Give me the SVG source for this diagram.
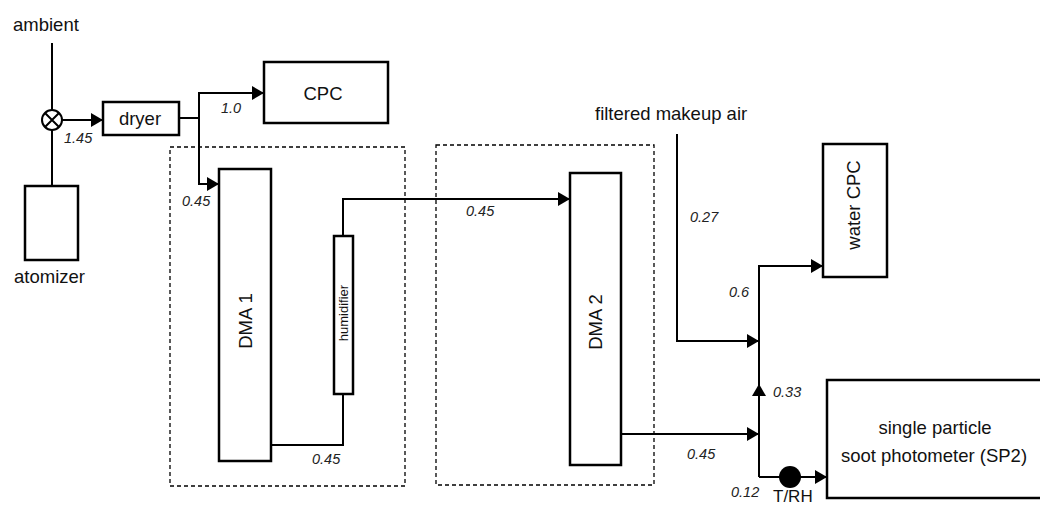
<svg xmlns="http://www.w3.org/2000/svg" width="1040" height="507" viewBox="0 0 1040 507">
<defs>
<marker id="ah" markerWidth="12" markerHeight="14" refX="12" refY="7" orient="auto" markerUnits="userSpaceOnUse">
<path d="M0,0 L12,7 L0,14 Z" fill="#000"/>
</marker>
<style>
.box{fill:#fff;stroke:#000;stroke-width:2.5}
.dash{fill:none;stroke:#000;stroke-width:1.3;stroke-dasharray:4 3}
.ln{fill:none;stroke:#000;stroke-width:2}
.arr{fill:none;stroke:#000;stroke-width:2;marker-end:url(#ah)}
.t{font-family:"Liberation Sans",Arial,Helvetica,sans-serif;font-size:18.5px;fill:#111}
.n{font-family:"Liberation Sans",Arial,Helvetica,sans-serif;font-size:14.5px;font-style:italic;fill:#222}
</style>
</defs>
<rect width="1040" height="507" fill="#fff"/>

<g id="dma1-enclosure"><rect class="dash" x="170" y="147" width="235" height="339"/></g>
<g id="dma2-enclosure"><rect class="dash" x="436" y="145" width="218" height="340"/></g>

<g id="connectors">
<path class="ln" d="M52,43 V185"/>
<path class="arr" d="M62,120 H103"/>
<path class="arr" d="M179,118 H199 V93 H264"/>
<path class="arr" d="M199,118 V184 H219"/>
<path class="ln" d="M271,445 H343 V394"/>
<path class="arr" d="M343,236 V199 H570"/>
<path class="arr" d="M621,434 H759"/>
<path class="arr" d="M677,134 V341 H759"/>
<path class="arr" d="M759,477 V384"/>
<path class="arr" d="M759,386 V266 H823"/>
<path class="arr" d="M759,477 H827"/>
</g>

<g id="ambient"><text class="t" x="13" y="31">ambient</text></g>
<g id="valve">
<circle cx="52" cy="120" r="10" fill="#fff" stroke="#000" stroke-width="2"/>
<path class="ln" d="M45,113 L59,127 M59,113 L45,127"/>
</g>
<g id="atomizer">
<rect class="box" x="25" y="186" width="53" height="74"/>
<text class="t" x="14" y="283">atomizer</text>
</g>
<g id="dryer">
<rect class="box" x="103" y="102" width="76" height="33"/>
<text class="t" x="140" y="125" text-anchor="middle">dryer</text>
</g>
<g id="cpc">
<rect class="box" x="264" y="62" width="124" height="61"/>
<text class="t" x="323" y="100" text-anchor="middle">CPC</text>
</g>
<g id="dma1">
<rect class="box" x="219" y="169" width="52" height="292"/>
<text class="t" transform="translate(245,321) rotate(-90)" text-anchor="middle" dominant-baseline="central">DMA 1</text>
</g>
<g id="humidifier">
<rect class="box" x="334" y="236" width="19" height="158"/>
<text class="t" style="font-size:13px" transform="translate(343.5,313) rotate(-90)" text-anchor="middle" dominant-baseline="central">humidifier</text>
</g>
<g id="dma2">
<rect class="box" x="570" y="173" width="51" height="292"/>
<text class="t" transform="translate(595,322) rotate(-90)" text-anchor="middle" dominant-baseline="central">DMA 2</text>
</g>
<g id="makeup-air"><text class="t" x="595" y="120">filtered makeup air</text></g>
<g id="water-cpc">
<rect class="box" x="823" y="144" width="64" height="133"/>
<text class="t" transform="translate(853,205) rotate(-90)" text-anchor="middle" dominant-baseline="central">water CPC</text>
</g>
<g id="sp2">
<rect class="box" x="827" y="380" width="230" height="118"/>
<text class="t" x="935" y="434" text-anchor="middle">single particle</text>
<text class="t" x="934" y="462" text-anchor="middle">soot photometer (SP2)</text>
</g>
<g id="trh">
<circle cx="790" cy="477" r="11" fill="#000"/>
<text class="t" style="font-size:17px" x="773" y="502">T/RH</text>
</g>

<g id="labels">
<text class="n" x="64" y="143">1.45</text>
<text class="n" x="221" y="113">1.0</text>
<text class="n" x="182" y="206">0.45</text>
<text class="n" x="466" y="216">0.45</text>
<text class="n" x="312" y="464">0.45</text>
<text class="n" x="690" y="222">0.27</text>
<text class="n" x="729" y="297">0.6</text>
<text class="n" x="773" y="397">0.33</text>
<text class="n" x="687" y="459">0.45</text>
<text class="n" x="731" y="497">0.12</text>
</g>
</svg>
